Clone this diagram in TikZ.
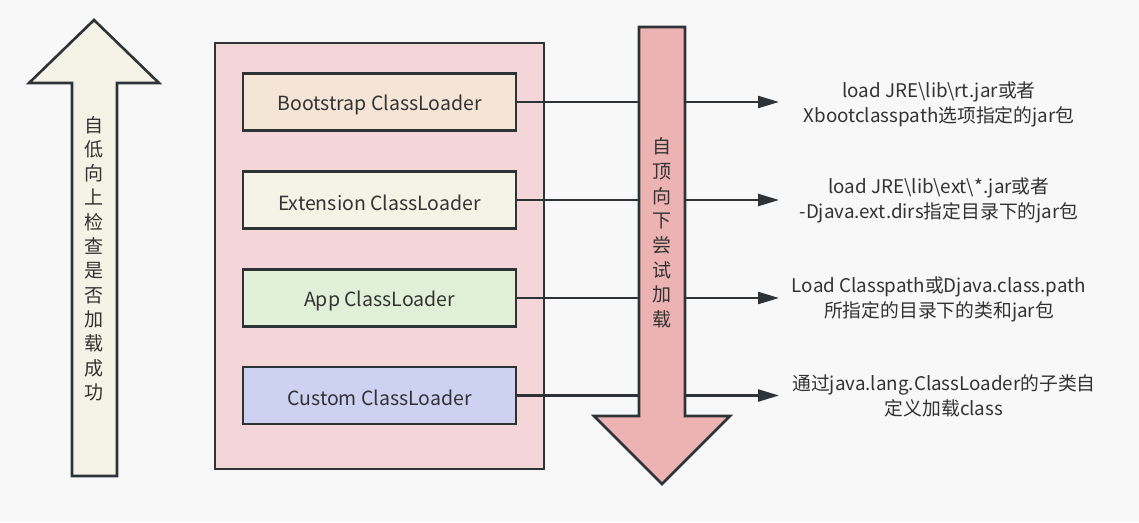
\documentclass[tikz,border=0pt]{standalone}
\usepackage{fontspec}
\setmainfont{Noto Sans CJK SC}
\usetikzlibrary{arrows.meta}
\definecolor{bg}{HTML}{F8F8F8}
\definecolor{stroke}{HTML}{2E3338}
\definecolor{txt}{HTML}{333333}
\definecolor{outerfill}{HTML}{F5D6D8}
\definecolor{cboot}{HTML}{F5E5D7}
\definecolor{cext}{HTML}{F5F2E6}
\definecolor{capp}{HTML}{E1F0D8}
\definecolor{ccust}{HTML}{CDD2F2}
\definecolor{upfill}{HTML}{F5F2E6}
\definecolor{downfill}{HTML}{EDB3B3}
\newcommand{\lowered}[1]{\raisebox{-2.5pt}[\height][\depth]{#1}}
\tikzset{
  loader/.style={draw=stroke, line width=2.6pt, minimum width=273pt, minimum height=57pt,
    inner sep=0pt, text=txt, font=\fontsize{19.5}{22}\selectfont},
  conn/.style={draw=stroke, line width=2.4pt, -{Triangle[length=21pt,width=12pt]}},
  bigarrow/.style={draw=stroke, line width=2.6pt, line join=miter},
  desc/.style={align=center, text=txt, font=\fontsize{18.8}{25}\selectfont, inner sep=0pt},
  vtext/.style={align=center, text=txt, inner sep=0pt}
}
\begin{document}
\begin{tikzpicture}[x=1pt,y=-1pt]
\useasboundingbox[fill=bg] (0,0) rectangle (1139,522);
% outer container
\draw[draw=stroke, line width=2.6pt, fill=outerfill] (215,43) rectangle (544,469);
% loaders
\node[loader, fill=cboot] (boot) at (379.5,102) {\lowered{Bootstrap ClassLoader}};
\node[loader, fill=cext] (ext) at (379.5,200) {\lowered{Extension ClassLoader}};
\node[loader, fill=capp] (app) at (379.5,298) {\lowered{App ClassLoader}};
\node[loader, fill=ccust] (cust) at (379.5,395.5) {\lowered{Custom ClassLoader}};
% targets
\coordinate (t1) at (779,102);
\coordinate (t2) at (779,200);
\coordinate (t3) at (779,298);
\coordinate (t4) at (779,395.5);
\draw[conn] (boot.east) -- (t1);
\draw[conn] (ext.east) -- (t2);
\draw[conn] (app.east) -- (t3);
\draw[conn] (cust.east) -- (t4);
% downward arrow
\draw[bigarrow, fill=downfill] (639,27) -- (685,27) -- (685,416) -- (730,416) -- (662,484)
  -- (594,416) -- (639,416) -- cycle;
% upward arrow
\draw[bigarrow, fill=upfill] (72,476) -- (72,83) -- (29,83) -- (94,20) -- (159,83)
  -- (117,83) -- (117,476) -- cycle;
% vertical texts
\node[vtext, font=\fontsize{19}{24.3}\selectfont] (uptext) at (94,258.5)
  {自\\低\\向\\上\\检\\查\\是\\否\\加\\载\\成\\功};
\node[vtext, font=\fontsize{19}{24.7}\selectfont] (downtext) at (662,233)
  {自\\顶\\向\\下\\尝\\试\\加\\载};
% descriptions
\node[desc] (d1) at (939,104) {load JRE\textbackslash lib\textbackslash rt.jar或者\\Xbootclasspath选项指定的jar包};
\node[desc] (d2) at (939,200.5) {load JRE\textbackslash lib\textbackslash ext\textbackslash *.jar或者\\-Djava.ext.dirs指定目录下的jar包};
\node[desc] (d3) at (939,299.5) {Load Classpath或Djava.class.path\\所指定的目录下的类和jar包};
\node[desc] (d4) at (944,395.5) {通过java.lang.ClassLoader的子类自\\定义加载class};
\end{tikzpicture}
\end{document}
